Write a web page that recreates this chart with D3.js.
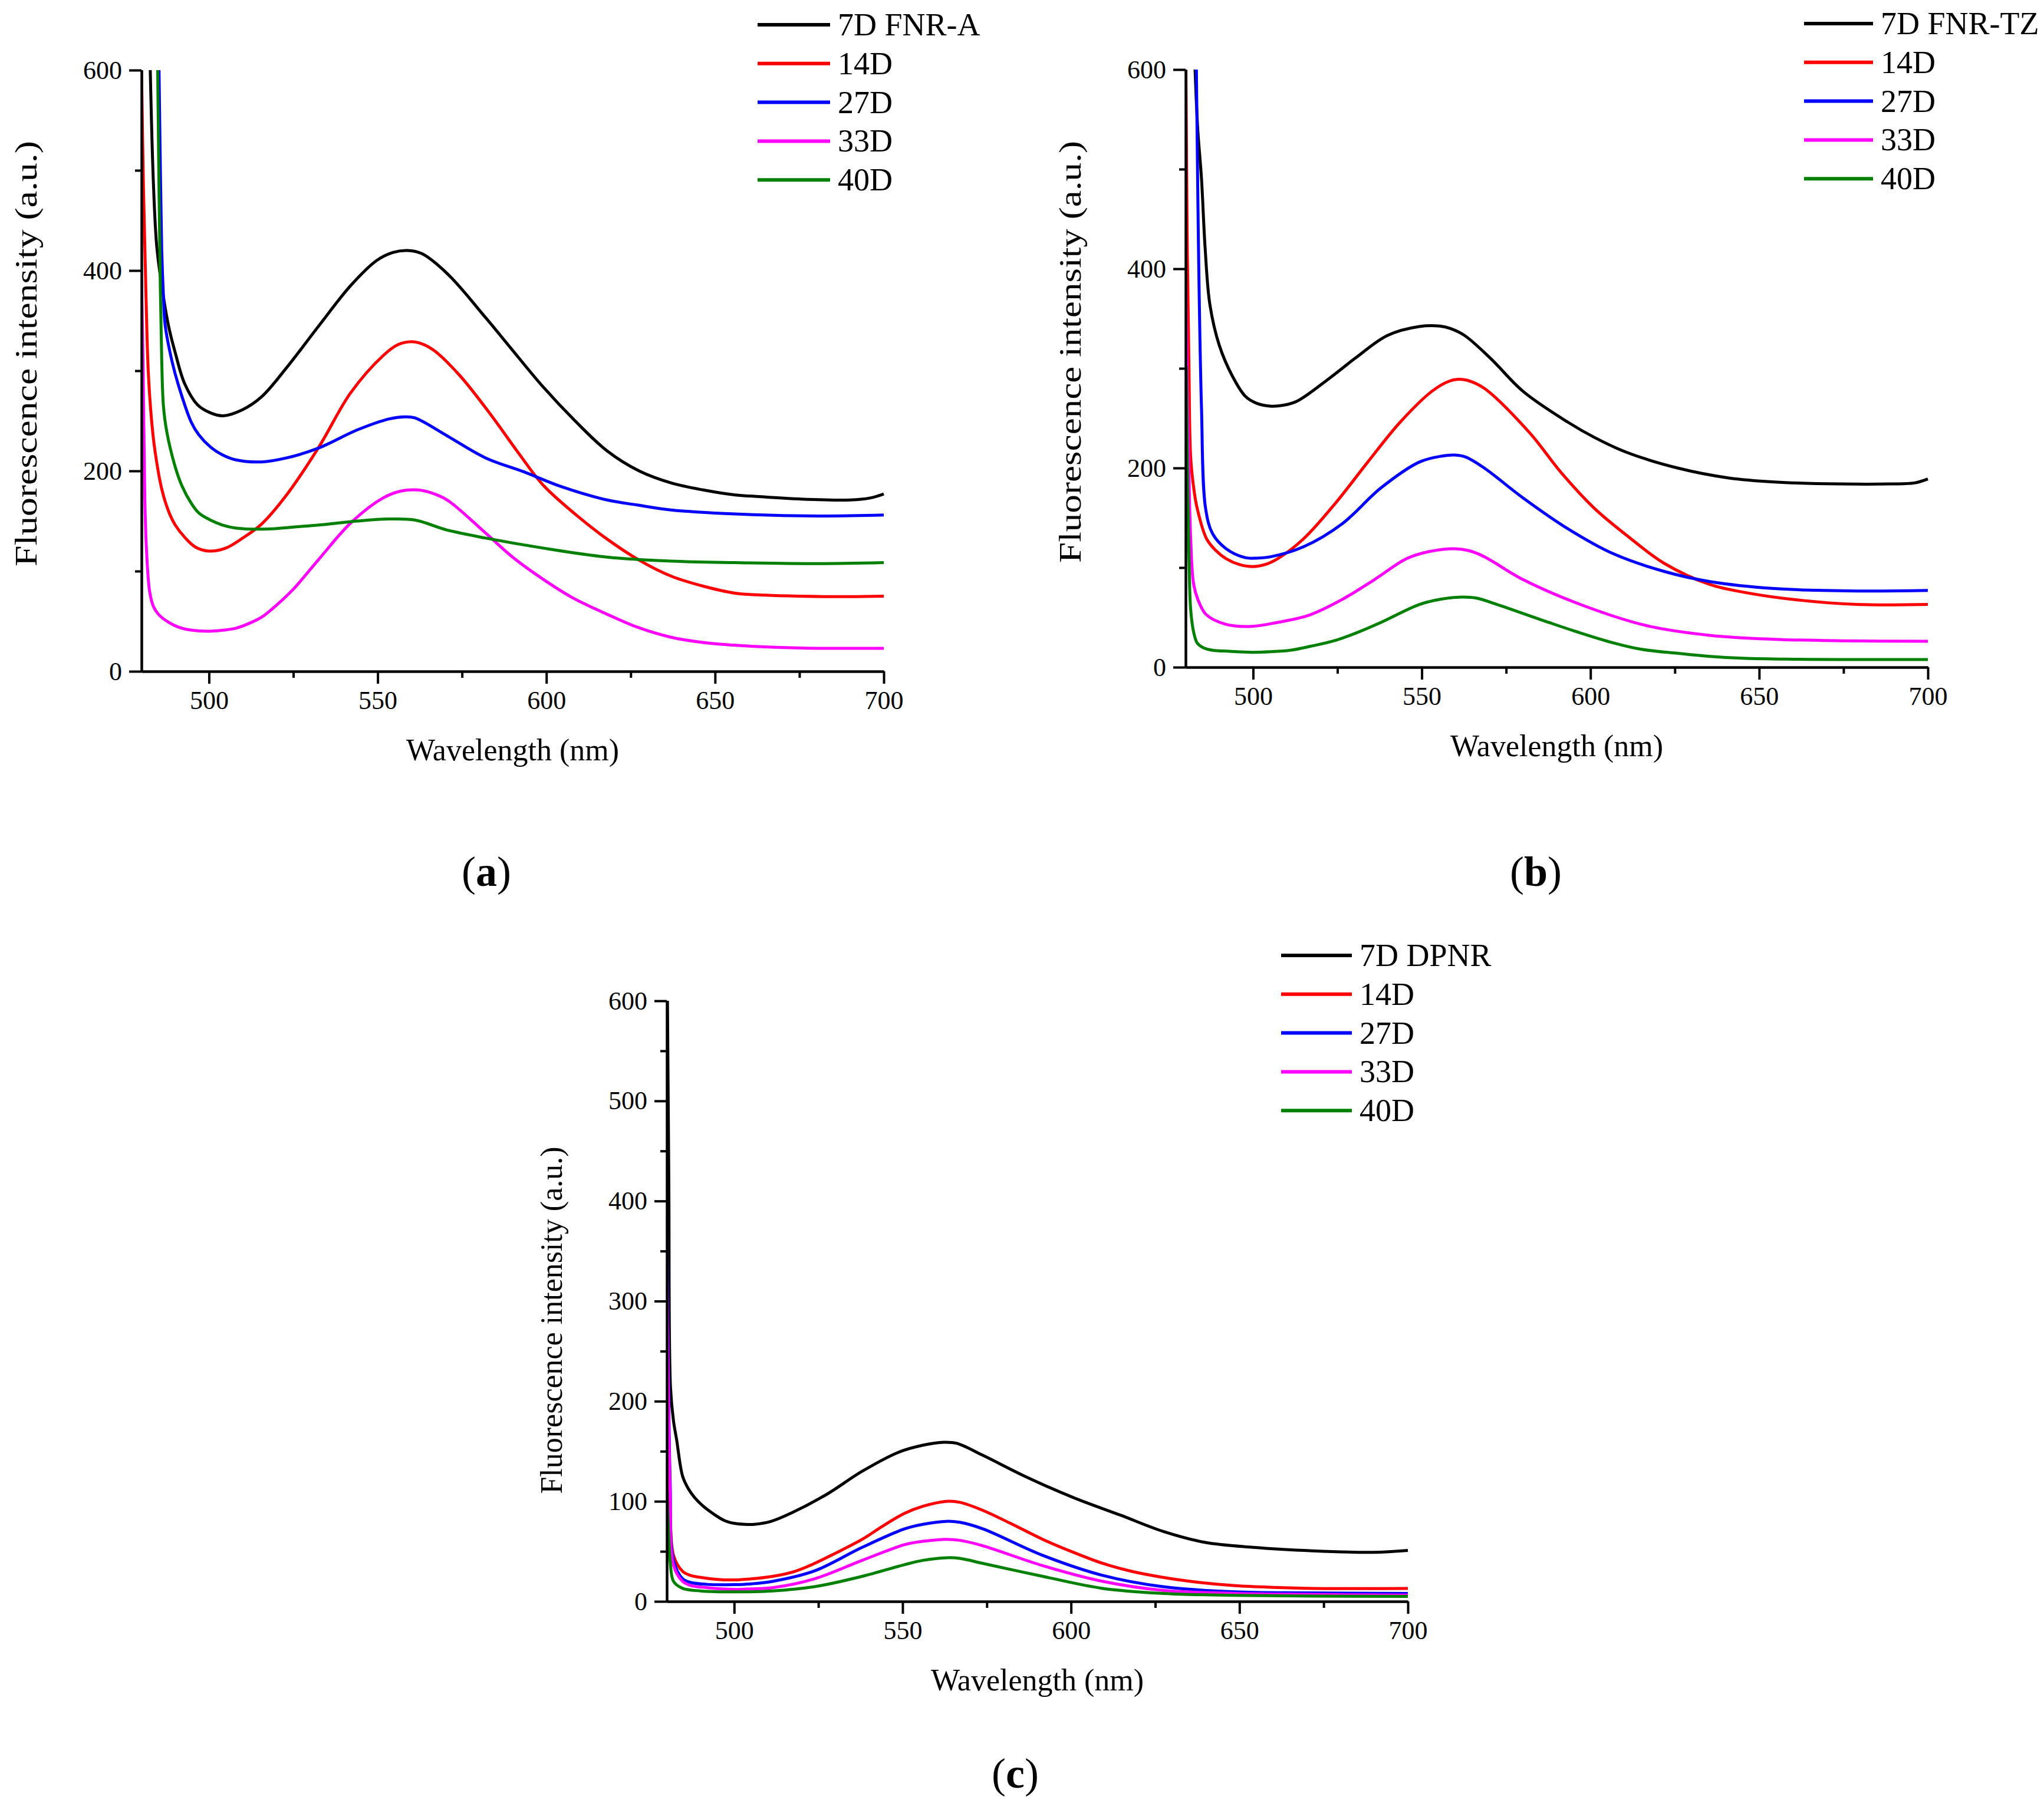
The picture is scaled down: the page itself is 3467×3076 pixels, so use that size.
<!DOCTYPE html>
<html>
<head>
  <meta charset="UTF-8">
  <style>
    body { margin: 0; padding: 0; background: #fff; }
    svg { display: block; }
    text { font-family: "Liberation Serif", "Times New Roman", serif; fill: #000; }
  </style>
</head>
<body>
<svg></svg>
<script src="https://d3js.org/d3.v7.min.js"></script>
<script>
  let width = 3467, height = 3076;

  // shared axis ticks
  const wlTicks = [500, 550, 600, 650, 700];
  const wlMinor = [525, 575, 625, 675];
  const seriesColors = ["#000000", "#ff0000", "#0000ff", "#ff00ff", "#008000"];

  // panel (a) FNR-A : [wavelength nm, intensity a.u.]
  const a7D = [[482.6,600],[483.5,490],[484.5,425],[486,385],[488,345],[490,318],[492.8,287],[496.6,266],[500.4,258],[504.2,255],[509.9,261],[515.6,274],[523,303],[532.6,345],[542,385],[549.7,410],[554.5,418],[558.8,420],[563,417],[570.6,397],[582,353],[589.6,322],[599,284],[608.5,250],[618,220],[627.5,200],[637,188],[646.5,181],[656,176],[665,174],[675,172],[690,171],[696,173],[700,177]];
  const a14D = [[480,600],[480.6,480],[481.3,380],[482,300],[483,250],[484,220],[486,182],[488,160],[490,146],[493,133],[496,124],[500,120],[505,123],[510,133],[515.6,147],[523,176],[532.6,224],[542,278],[551.6,315],[556,326],[560,329],[563,327],[566.8,320],[574.4,295],[584,254],[591.5,219],[599,186],[608.5,157],[618,132],[627.5,111],[637,95],[646.5,85],[656,78],[665,76],[675,75],[690,74.5],[700,75]];
  const a27D = [[485.2,600],[485.6,500],[486,420],[486.5,375],[487,346],[489,310],[491,285],[494.7,249],[497,236],[500.4,224],[504,216],[508,211],[515.6,209],[523,213],[532.6,223],[544,241],[553.5,252],[558,254],[561,253],[570.6,235],[582,213],[593.4,199],[604.7,184],[618,171],[627,166],[637,161],[656,157],[680.6,155],[700,156]];
  const a33D = [[480,391],[480.5,300],[481,170],[481.5,120],[482.4,80],[483.5,65],[485,57],[488,49],[491,44],[495,41],[500,40],[504,41],[508,43],[512,48],[515.6,54],[520,66],[525,82],[532.6,112],[542,148],[551.6,173],[557,180],[562,181],[566,178],[570.6,171],[582,138],[590,114],[599,92],[608,73],[618,57],[627,44],[637,34],[646,29],[656,26],[668,24],[680.6,23],[700,23]];
  const a40D = [[484.8,600],[485.2,480],[485.6,380],[486,310],[486.5,265],[487.5,239],[490,204],[492,185],[494.7,168],[497,158],[500.4,151],[504,146],[508,143],[517.5,142],[525,144],[532.6,146],[544,150],[553.5,152],[561,151],[570.6,141],[582,133],[599,123],[618,114],[637,110],[656,108.5],[680.6,107.5],[700,108.5]];
  const aLegend = ["7D FNR-A", "14D", "27D", "33D", "40D"];

  // panel (b) FNR-TZ
  const b7D = [[482.8,600],[483.6,540],[484.7,491],[485.8,420],[487.2,364],[490,323],[493.9,292],[497.7,272],[501,265],[505.4,262],[509,263],[513,267],[522.6,290],[530.2,310],[539.8,333],[549.3,342],[555.4,342.4],[558.5,340],[562.7,333],[570.4,310],[580,277],[593.3,246],[601,231],[610.5,216],[625.8,200],[641,190],[654.5,186],[673.6,184],[689,184],[696,185],[700,189]];
  const b14D = [[480.1,600],[480.5,420],[481,300],[481.5,211],[482.4,180],[483.4,160],[486.2,129],[489,117],[492,109],[496,103],[500,101],[503.5,103],[507.3,109],[515,129],[524.5,165],[534,206],[543.6,246],[553,277],[558,287],[560.8,289],[563.5,288],[568.5,280],[581.8,236],[591.4,195],[601,160],[610.5,133],[622,104],[635.4,83],[645,75.5],[660,68],[679,63],[700,63]];
  const b27D = [[483.2,600],[483.6,480],[484,380],[484.7,262],[485.9,160],[488,134],[492,119],[497.7,110],[501,109.5],[505.4,111],[515,121],[526.4,144],[537.9,180],[549.3,206],[556,212],[559.8,213],[563,211],[568.5,200],[580,170],[593.3,139],[606.7,114],[622,96],[635.4,86],[654.5,79],[679,76.5],[700,77]];
  const b33D = [[480,400],[480.4,300],[480.9,211],[481.5,130],[482.4,83],[484,65],[486.2,52.5],[492,43],[499.6,41],[507.3,45],[516.8,52.5],[526.4,68],[536,88],[545.5,109],[552,116],[559.8,119],[564,117],[568.5,111],[580,88],[597,63],[616.3,42],[635.4,32],[654.5,28],[675,26.5],[700,26]];
  const b40D = [[480.2,302],[480.6,180],[481,110],[481.5,58],[482.4,35],[483.4,24.5],[485,20],[488,17],[493,16],[499.6,15],[505,15.5],[511,17],[517,21],[524.5,27],[531,35],[537.9,45],[549.3,63],[556,68.5],[561.8,70.4],[566,69.5],[572.3,63],[587.6,45],[596,35.5],[606.7,24.5],[615,18],[625.8,14],[635,11],[645,9],[660,8],[673.6,7.7],[700,7.7]];
  const bLegend = ["7D FNR-TZ", "14D", "27D", "33D", "40D"];

  // panel (c) DPNR
  const c7D = [[480.2,600],[480.6,420],[481.1,214],[482,180],[482.9,162],[484.7,125],[486.5,112],[488.2,104],[490.5,96],[493.6,88],[497,81],[500,78],[503,77],[506,77],[511,80],[516.8,88],[527.5,107],[538,130],[548.8,149],[556,156],[562.2,159],[566,158],[573.8,146],[586.3,125],[600.5,104],[614.8,86],[627.3,70],[639.7,59],[654,54],[671.8,50.5],[689.7,49],[700,51]];
  const c14D = [[480,230],[480.5,150],[481,90],[482,46],[484.7,30],[487,26],[490,24],[495,22],[500,21.5],[505,22.5],[511.4,25],[518,30],[523.9,38],[530,48],[538,62],[544,75],[550.6,88],[556,95],[563,100],[567,99],[573.8,91],[582,78],[591.6,62],[600,50],[609.4,38],[618,30],[627.3,24],[638,19],[648.7,15.7],[660,14],[671.8,13],[700,13]];
  const c27D = [[480,382],[480.4,250],[481,120],[482,41],[484.7,22.6],[487,19],[492,17],[500,16.8],[505,17.5],[511.4,20],[523.9,30.5],[538,54],[550.6,72.5],[556,77],[563,80],[567,79],[573.8,72.5],[591.6,46],[609.4,26],[627.3,14.7],[648.7,9.5],[670,8.5],[700,8]];
  const c33D = [[480,350],[480.4,230],[481,110],[482,36],[484.7,20],[487,16],[492,13.7],[500,12],[505,12.5],[511.4,13.7],[523.9,22.6],[538,41],[550.6,56.7],[556,60],[563,62],[567,61],[573.8,55.6],[591.6,35.7],[609.4,20],[627.3,11],[648.7,8],[670,7],[700,6.3]];
  const c40D = [[480,110],[480.5,70],[481,40],[482,20],[484.7,13],[490,10.5],[500,9.5],[511.4,10.5],[523.9,14.7],[538,25],[550.6,36.7],[556,41],[563,43.6],[567,43],[573.8,38],[591.6,25],[609.4,13],[627.3,8],[648.7,6],[700,5]];
  const cLegend = ["7D DPNR", "14D", "27D", "33D", "40D"];

  let svg = d3.select("svg").attr("width", width).attr("height", height);

  function drawPanel(p) {
    let x = d3.scaleLinear().domain([480, 700]).range([p.left, p.right]);
    let y = d3.scaleLinear().domain([0, 600]).range([p.bottom, p.top]);
    let g = svg.append("g");

    g.append("clipPath").attr("id", "clip-" + p.id)
      .append("rect")
      .attr("x", p.left).attr("y", p.top - 2)
      .attr("width", p.right - p.left + 4).attr("height", p.bottom - p.top + 2);

    // spectra lines
    let line = d3.line()
        .x(d => x(d[0]))
        .y(d => y(d[1]))
        .curve(d3.curveCatmullRom.alpha(0.5));

    p.series.forEach((s, i) => {
      g.append("path")
        .datum(s)
        .attr("clip-path", "url(#clip-" + p.id + ")")
        .attr("fill", "none")
        .attr("stroke", seriesColors[i])
        .attr("stroke-width", 5)
        .attr("stroke-linejoin", "round")
        .attr("d", line);
    });

    // minor ticks first, then major with labels
    g.append("g")
      .attr("transform", `translate(0,${p.bottom})`)
      .call(d3.axisBottom(x).tickValues(wlMinor).tickSize(11).tickSizeOuter(0).tickFormat(""));
    g.append("g")
      .attr("transform", `translate(${p.left},0)`)
      .call(d3.axisLeft(y).tickValues(p.yMinor).tickSize(11).tickSizeOuter(0).tickFormat(""));

    let xa = g.append("g")
      .attr("transform", `translate(0,${p.bottom})`)
      .call(d3.axisBottom(x).tickValues(wlTicks).tickSize(21).tickSizeOuter(0).tickPadding(12));
    let ya = g.append("g")
      .attr("transform", `translate(${p.left},0)`)
      .call(d3.axisLeft(y).tickValues(p.yTicks).tickSize(21).tickSizeOuter(0).tickPadding(12));

    g.selectAll(".domain, .tick line").attr("stroke", "#000").attr("stroke-width", 4);
    [xa, ya].forEach(a => a.selectAll("text")
      .attr("font-family", "'Liberation Serif', 'Times New Roman', serif")
      .attr("font-size", 44).attr("fill", "#000"));

    // axis titles
    g.append("text")
      .attr("x", (p.left + p.right) / 2)
      .attr("y", p.bottom + 151)
      .attr("text-anchor", "middle")
      .attr("font-size", 52)
      .text("Wavelength (nm)");

    let yt = g.append("text")
      .attr("transform", `translate(${p.left - 178},${p.yTitleMid}) rotate(-90)`)
      .attr("text-anchor", "middle")
      .attr("font-size", 52)
      .text("Fluorescence intensity (a.u.)");
    if (p.yTitleLen) yt.attr("textLength", p.yTitleLen).attr("lengthAdjust", "spacingAndGlyphs");

    // legend
    p.legend.forEach((name, i) => {
      let ly = p.legY + i * p.legStep;
      g.append("line")
        .attr("x1", p.legX).attr("x2", p.legX + p.legLen)
        .attr("y1", ly).attr("y2", ly)
        .attr("stroke", seriesColors[i]).attr("stroke-width", 6);
      g.append("text")
        .attr("x", p.legX + p.legLen + 13)
        .attr("y", ly + 18)
        .attr("font-size", 54)
        .text(name);
    });

    // panel label
    let lab = g.append("text")
      .attr("x", p.labX).attr("y", p.labY)
      .attr("text-anchor", "middle")
      .attr("font-size", 72);
    lab.append("tspan").text("(");
    lab.append("tspan").attr("font-weight", "bold").text(p.label);
    lab.append("tspan").text(")");
  }

  drawPanel({
    id: "a", left: 240, right: 1499, top: 119, bottom: 1139,
    series: [a7D, a14D, a27D, a33D, a40D],
    yTicks: [0, 200, 400, 600], yMinor: [100, 300, 500],
    yTitleMid: 600, yTitleLen: 722,
    legend: aLegend, legX: 1285, legLen: 123, legY: 42, legStep: 65.8,
    label: "a", labX: 825, labY: 1503
  });

  drawPanel({
    id: "b", left: 2011, right: 3270, top: 118, bottom: 1132,
    series: [b7D, b14D, b27D, b33D, b40D],
    yTicks: [0, 200, 400, 600], yMinor: [100, 300, 500],
    yTitleMid: 597, yTitleLen: 716,
    legend: bLegend, legX: 3060, legLen: 117, legY: 40, legStep: 65.8,
    label: "b", labX: 2605, labY: 1503
  });

  drawPanel({
    id: "c", left: 1131, right: 2388, top: 1698, bottom: 2717,
    series: [c7D, c14D, c27D, c33D, c40D],
    yTicks: [0, 100, 200, 300, 400, 500, 600], yMinor: [50, 150, 250, 350, 450, 550],
    yTitleMid: 2240, yTitleLen: null,
    legend: cLegend, legX: 2173, legLen: 120, legY: 1621, legStep: 65.8,
    label: "c", labX: 1722, labY: 3033
  });
</script>
</body>
</html>
